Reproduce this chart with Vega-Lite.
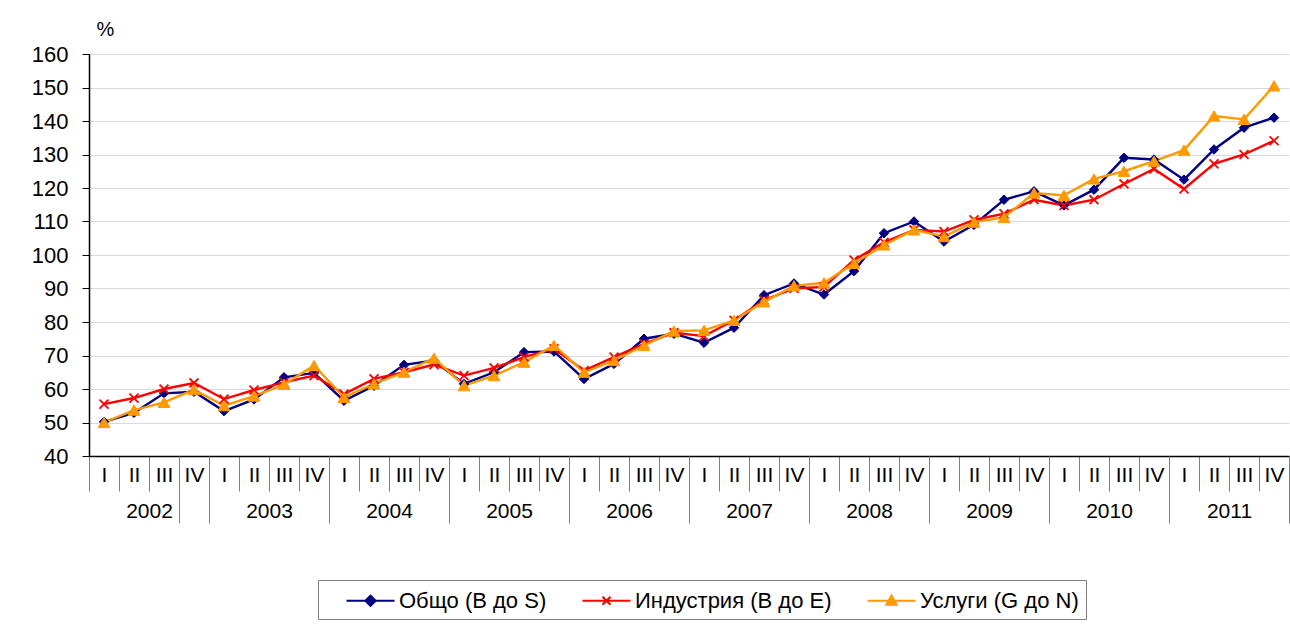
{
  "$schema": "https://vega.github.io/schema/vega-lite/v6.json",
  "width": 1200,
  "height": 402,
  "autosize": "none",
  "padding": {"left": 89, "top": 54, "right": 1, "bottom": 170},
  "background": "white",
  "config": {"font": "Liberation Sans", "view": {"stroke": null}},
  "data": {"values": [
    {"q": "2002-I", "Общо (B до S)": 50.2, "Индустрия (B до E)": 55.5, "Услуги (G до N)": 50.0},
    {"q": "2002-II", "Общо (B до S)": 52.9, "Индустрия (B до E)": 57.3, "Услуги (G до N)": 53.7},
    {"q": "2002-III", "Общо (B до S)": 58.7, "Индустрия (B до E)": 60.0, "Услуги (G до N)": 56.0},
    {"q": "2002-IV", "Общо (B до S)": 59.2, "Индустрия (B до E)": 61.8, "Услуги (G до N)": 59.8},
    {"q": "2003-I", "Общо (B до S)": 53.4, "Индустрия (B до E)": 57.0, "Услуги (G до N)": 55.0},
    {"q": "2003-II", "Общо (B до S)": 56.9, "Индустрия (B до E)": 59.7, "Услуги (G до N)": 57.9},
    {"q": "2003-III", "Общо (B до S)": 63.5, "Индустрия (B до E)": 62.0, "Услуги (G до N)": 61.4},
    {"q": "2003-IV", "Общо (B до S)": 64.8, "Индустрия (B до E)": 64.0, "Услуги (G до N)": 67.0},
    {"q": "2004-I", "Общо (B до S)": 56.5, "Индустрия (B до E)": 58.5, "Услуги (G до N)": 57.5},
    {"q": "2004-II", "Общо (B до S)": 61.0, "Индустрия (B до E)": 63.0, "Услуги (G до N)": 61.5},
    {"q": "2004-III", "Общо (B до S)": 67.2, "Индустрия (B до E)": 65.0, "Услуги (G до N)": 65.0},
    {"q": "2004-IV", "Общо (B до S)": 68.5, "Индустрия (B до E)": 67.3, "Услуги (G до N)": 69.2},
    {"q": "2005-I", "Общо (B до S)": 61.5, "Индустрия (B до E)": 64.0, "Услуги (G до N)": 61.0},
    {"q": "2005-II", "Общо (B до S)": 65.0, "Индустрия (B до E)": 66.3, "Услуги (G до N)": 64.0},
    {"q": "2005-III", "Общо (B до S)": 71.0, "Индустрия (B до E)": 69.5, "Услуги (G до N)": 68.0},
    {"q": "2005-IV", "Общо (B до S)": 71.2, "Индустрия (B до E)": 72.0, "Услуги (G до N)": 73.0},
    {"q": "2006-I", "Общо (B до S)": 63.0, "Индустрия (B до E)": 65.5, "Услуги (G до N)": 65.0},
    {"q": "2006-II", "Общо (B до S)": 67.5, "Индустрия (B до E)": 69.5, "Услуги (G до N)": 68.5},
    {"q": "2006-III", "Общо (B до S)": 75.0, "Индустрия (B до E)": 73.5, "Услуги (G до N)": 73.0},
    {"q": "2006-IV", "Общо (B до S)": 76.5, "Индустрия (B до E)": 76.8, "Услуги (G до N)": 77.3},
    {"q": "2007-I", "Общо (B до S)": 73.8, "Индустрия (B до E)": 75.8, "Услуги (G до N)": 77.5},
    {"q": "2007-II", "Общо (B до S)": 78.3, "Индустрия (B до E)": 80.5, "Услуги (G до N)": 80.5},
    {"q": "2007-III", "Общо (B до S)": 88.0, "Индустрия (B до E)": 86.5, "Услуги (G до N)": 86.0},
    {"q": "2007-IV", "Общо (B до S)": 91.5, "Индустрия (B до E)": 90.0, "Услуги (G до N)": 90.8},
    {"q": "2008-I", "Общо (B до S)": 88.2, "Индустрия (B до E)": 90.5, "Услуги (G до N)": 91.7},
    {"q": "2008-II", "Общо (B до S)": 95.2, "Индустрия (B до E)": 98.5, "Услуги (G до N)": 97.5},
    {"q": "2008-III", "Общо (B до S)": 106.5, "Индустрия (B до E)": 103.8, "Услуги (G до N)": 103.0},
    {"q": "2008-IV", "Общо (B до S)": 110.0, "Индустрия (B до E)": 107.5, "Услуги (G до N)": 107.5},
    {"q": "2009-I", "Общо (B до S)": 104.0, "Индустрия (B до E)": 107.0, "Услуги (G до N)": 105.5},
    {"q": "2009-II", "Общо (B до S)": 109.0, "Индустрия (B до E)": 110.5, "Услуги (G до N)": 109.8},
    {"q": "2009-III", "Общо (B до S)": 116.5, "Индустрия (B до E)": 112.3, "Услуги (G до N)": 111.2},
    {"q": "2009-IV", "Общо (B до S)": 119.0, "Индустрия (B до E)": 116.5, "Услуги (G до N)": 118.5},
    {"q": "2010-I", "Общо (B до S)": 114.8, "Индустрия (B до E)": 114.8, "Услуги (G до N)": 117.8},
    {"q": "2010-II", "Общо (B до S)": 119.5, "Индустрия (B до E)": 116.5, "Услуги (G до N)": 122.7},
    {"q": "2010-III", "Общо (B до S)": 129.0, "Индустрия (B до E)": 121.2, "Услуги (G до N)": 125.0},
    {"q": "2010-IV", "Общо (B до S)": 128.5, "Индустрия (B до E)": 125.7, "Услуги (G до N)": 128.0},
    {"q": "2011-I", "Общо (B до S)": 122.5, "Индустрия (B до E)": 119.7, "Услуги (G до N)": 131.3},
    {"q": "2011-II", "Общо (B до S)": 131.5, "Индустрия (B до E)": 127.2, "Услуги (G до N)": 141.5},
    {"q": "2011-III", "Общо (B до S)": 138.0, "Индустрия (B до E)": 130.0, "Услуги (G до N)": 140.5},
    {"q": "2011-IV", "Общо (B до S)": 141.0, "Индустрия (B до E)": 134.1, "Услуги (G до N)": 150.5}
  ]},
  "transform": [
    {"fold": ["Общо (B до S)", "Индустрия (B до E)", "Услуги (G до N)"], "as": ["series", "value"]}
  ],
  "encoding": {
    "y": {
      "field": "value", "type": "quantitative",
      "scale": {"domain": [40, 160], "nice": false, "zero": false},
      "axis": {
        "title": "%",
        "titleAngle": 0,
        "titleX": 16,
        "titleY": -25,
        "titleAlign": "center",
        "titleBaseline": "middle",
        "titleFontWeight": "normal",
        "titleFontSize": 20,
        "titleColor": "black",
        "values": [40, 50, 60, 70, 80, 90, 100, 110, 120, 130, 140, 150, 160],
        "labelOverlap": false,
        "labelFontSize": 22,
        "labelColor": "black",
        "labelPadding": 14,
        "tickSize": 7,
        "tickColor": "black",
        "domainColor": "black",
        "domainWidth": 1.5,
        "grid": true,
        "gridColor": "#d9d9d9",
        "gridWidth": 1.2
      }
    }
  },
  "layer": [
    {
      "mark": {"type": "line", "strokeWidth": 2.4},
      "encoding": {
        "x": {
          "field": "q", "type": "ordinal", "sort": null,
          "scale": {"type": "band", "paddingInner": 0, "paddingOuter": 0},
          "axis": {
            "title": "",
            "orient": "bottom",
            "labelExpr": "datum.value ? split(datum.value, '-')[1] : ''",
            "labelAngle": 0,
            "labelOverlap": false,
            "tickBand": "extent",
            "tickSize": 35,
            "tickColor": "#808080",
            "tickWidth": 1,
            "labelPadding": -27,
            "labelFontSize": 21,
            "labelColor": "black",
            "domainColor": "black",
            "domainWidth": 1.5,
            "grid": false
          }
        },
        "color": {
          "field": "series", "type": "nominal",
          "scale": {
            "domain": ["Общо (B до S)", "Индустрия (B до E)", "Услуги (G до N)"],
            "range": ["#000080", "#ff0000", "#ff9900"]
          },
          "legend": {
            "title": null,
            "orient": "none",
            "legendX": 229,
            "legendY": 526,
            "direction": "horizontal",
            "strokeColor": "#808080",
            "padding": 7,
            "symbolOffset": 32,
            "labelFontSize": 22,
            "labelColor": "black",
            "labelLimit": 0,
            "labelOffset": 15,
            "symbolSize": 576,
            "symbolStrokeWidth": 2,
            "columnPadding": 14,
            "encode": {
              "symbols": {
                "update": {
                  "shape": {"signal": "datum.value === 'Общо (B до S)' ? 'M-2,0H2M0,-0.42L0.42,0L0,0.42L-0.42,0Z' : datum.value === 'Индустрия (B до E)' ? 'M-2,0H2M-0.33,-0.33L0.33,0.33M-0.33,0.33L0.33,-0.33' : 'M-2,0H2M0,-0.42L0.42,0.33L-0.42,0.33Z'"},
                  "fill": {"signal": "scale('color', datum.value)"},
                  "stroke": {"signal": "scale('color', datum.value)"},
                  "strokeWidth": {"value": 2.2},
                  "opacity": {"value": 1}
                }
              }
            }
          }
        }
      }
    },
    {
      "transform": [{"filter": "datum.series === 'Общо (B до S)'"}],
      "mark": {"type": "point", "shape": "diamond", "size": 90, "filled": true, "opacity": 1, "color": "#000080", "stroke": "#000080", "strokeWidth": 1},
      "encoding": {
        "x": {"field": "q", "type": "ordinal", "sort": null, "scale": {"type": "band", "paddingInner": 0, "paddingOuter": 0}, "axis": null}
      }
    },
    {
      "transform": [{"filter": "datum.series === 'Индустрия (B до E)'"}],
      "mark": {"type": "point", "shape": "M-1,-1L1,1M-1,1L1,-1", "size": 80, "filled": false, "opacity": 1, "color": "#ff0000", "stroke": "#ff0000", "strokeWidth": 1.8},
      "encoding": {
        "x": {"field": "q", "type": "ordinal", "sort": null, "scale": {"type": "band", "paddingInner": 0, "paddingOuter": 0}, "axis": null}
      }
    },
    {
      "transform": [{"filter": "datum.series === 'Услуги (G до N)'"}],
      "mark": {"type": "point", "shape": "triangle-up", "size": 140, "filled": true, "opacity": 1, "color": "#ff9900", "stroke": "#ff9900", "strokeWidth": 1},
      "encoding": {
        "x": {"field": "q", "type": "ordinal", "sort": null, "scale": {"type": "band", "paddingInner": 0, "paddingOuter": 0}, "axis": null}
      }
    },
    {
      "mark": {"type": "point", "opacity": 0},
      "encoding": {
        "x": {
          "field": "q", "type": "ordinal", "sort": null,
          "scale": {"type": "band", "paddingInner": 0, "paddingOuter": 0},
          "axis": {
            "title": "",
            "orient": "bottom",
            "values": ["2002-IV", "2003-IV", "2004-IV", "2005-IV", "2006-IV", "2007-IV", "2008-IV", "2009-IV", "2010-IV", "2011-IV"],
            "labelExpr": "datum.value ? split(datum.value, '-')[0] : ''",
            "labelAngle": 0,
            "labelOverlap": false,
            "labelOffset": -45,
            "tickBand": "extent",
            "tickSize": 67,
            "tickColor": "#808080",
            "tickWidth": 1,
            "labelPadding": -23,
            "labelFontSize": 21,
            "labelColor": "black",
            "domain": false,
            "grid": false
          }
        }
      }
    }
  ],
  "resolve": {"axis": {"x": "independent"}}
}
